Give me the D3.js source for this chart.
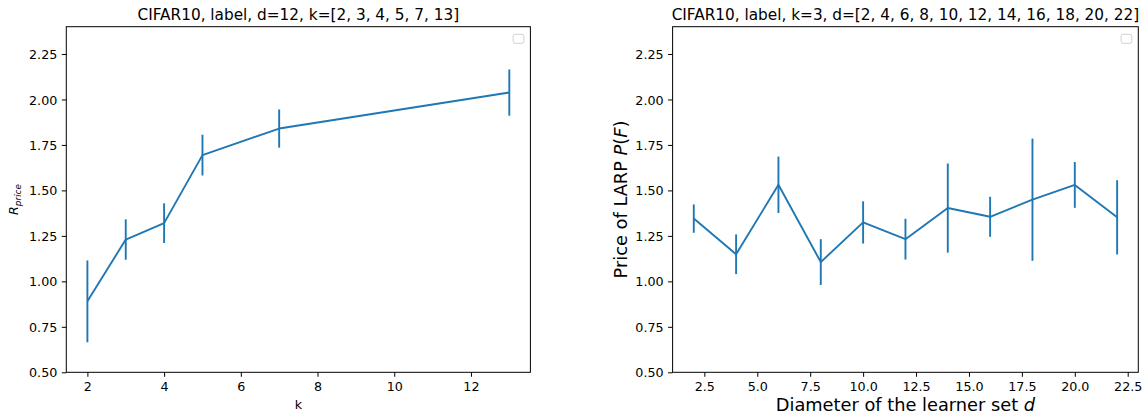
<!DOCTYPE html>
<html>
<head>
<meta charset="utf-8">
<script src="https://cdn.jsdelivr.net/npm/d3@7"></script>
<style>
  html, body { margin: 0; padding: 0; background: #fff; }
  svg { display: block; }
  text { font-family: "DejaVu Sans", sans-serif; fill: #000; }
</style>
</head>
<body>
<svg id="chart" width="1146" height="417"></svg>
<script>
// ---- data ----
const kValues = [2, 3, 4, 5, 7, 13];
const kMeans = [0.89, 1.23, 1.32, 1.694, 1.84, 2.038];
const kErrors = [0.225, 0.111, 0.109, 0.112, 0.105, 0.127];

const dValues = [2, 4, 6, 8, 10, 12, 14, 16, 18, 20, 22];
const dMeans = [1.345, 1.149, 1.531, 1.106, 1.324, 1.232, 1.403, 1.355, 1.449, 1.53, 1.352];
const dErrors = [0.078, 0.109, 0.155, 0.126, 0.116, 0.112, 0.245, 0.11, 0.336, 0.126, 0.204];

const yTicks = [0.50, 0.75, 1.00, 1.25, 1.50, 1.75, 2.00, 2.25];
const kTicks = [2, 4, 6, 8, 10, 12];
const dTicks = [2.5, 5.0, 7.5, 10.0, 12.5, 15.0, 17.5, 20.0, 22.5];

const titleLeft = "CIFAR10, label, d=12, k=[2, 3, 4, 5, 7, 13]";
const titleRight = "CIFAR10, label, k=3, d=[2, 4, 6, 8, 10, 12, 14, 16, 18, 20, 22]";

// ---- layout ----
const COLOR = "#1f77b4";
const TOP = 26.7, BOTTOM = 372.3;
const svg = d3.select("#chart");

function panel(opts) {
  const g = svg.append("g");
  const x = d3.scaleLinear().domain(opts.xDomain).range([opts.left, opts.right]);
  const y = d3.scaleLinear().domain([0.5, 2.4]).range([BOTTOM, TOP]);

  // axes
  const xAxis = d3.axisBottom(x).tickValues(opts.xTicks).tickFormat(opts.xFmt)
    .tickSize(4.5).tickPadding(4.5);
  const yAxis = d3.axisLeft(y).tickValues(yTicks).tickFormat(d3.format(".2f"))
    .tickSize(4.5).tickPadding(4.5);

  const gx = g.append("g").attr("transform", `translate(0,${BOTTOM})`).call(xAxis);
  const gy = g.append("g").attr("transform", `translate(${opts.left},0)`).call(yAxis);
  [gx, gy].forEach(a => {
    a.select(".domain").remove();
    a.selectAll(".tick line").attr("stroke", "#000").attr("stroke-width", 1);
    a.selectAll(".tick text").attr("font-size", 12.7).attr("fill", "#000")
      .attr("font-family", "DejaVu Sans, sans-serif");
  });
  gx.selectAll(".tick text").attr("dy", null).attr("y", 19);
  gy.selectAll(".tick text").attr("dy", "0.36em");

  // frame
  g.append("rect")
    .attr("x", opts.left).attr("y", TOP)
    .attr("width", opts.right - opts.left).attr("height", BOTTOM - TOP)
    .attr("fill", "none").attr("stroke", "#000").attr("stroke-width", 1);

  // error bars
  g.append("g").selectAll("line").data(opts.xs).join("line")
    .attr("x1", (d, i) => x(d)).attr("x2", (d, i) => x(d))
    .attr("y1", (d, i) => y(opts.means[i] - opts.errs[i]))
    .attr("y2", (d, i) => y(opts.means[i] + opts.errs[i]))
    .attr("stroke", COLOR).attr("stroke-width", 1.9);

  // line
  const line = d3.line().x(d => x(d[0])).y(d => y(d[1]));
  g.append("path")
    .datum(opts.xs.map((d, i) => [d, opts.means[i]]))
    .attr("d", line)
    .attr("fill", "none").attr("stroke", COLOR).attr("stroke-width", 1.9)
    .attr("stroke-linejoin", "round").attr("stroke-linecap", "butt");

  // empty legend box
  g.append("rect")
    .attr("x", opts.right - 17.2).attr("y", TOP + 7.6)
    .attr("width", 10.7).attr("height", 9).attr("rx", 2)
    .attr("fill", "#fff").attr("stroke", "#d0d0d0").attr("stroke-width", 1);

  // title
  g.append("text")
    .attr("x", (opts.left + opts.right) / 2).attr("y", 19.5)
    .attr("text-anchor", "middle").attr("font-size", 15.3)
    .text(opts.title);

  return { g, x, y };
}

const left = panel({
  left: 66.3, right: 530.4,
  xDomain: [1.45, 13.55], xTicks: kTicks, xFmt: d3.format("d"),
  xs: kValues, means: kMeans, errs: kErrors, title: titleLeft
});

const right = panel({
  left: 672.6, right: 1138.3,
  xDomain: [1, 23], xTicks: dTicks, xFmt: d3.format(".1f"),
  xs: dValues, means: dMeans, errs: dErrors, title: titleRight
});

// left labels
left.g.append("text")
  .attr("x", (66.3 + 530.4) / 2).attr("y", 409)
  .attr("text-anchor", "middle").attr("font-size", 12.7)
  .text("k");

const ylabL = left.g.append("text")
  .attr("transform", `translate(18,${(TOP + BOTTOM) / 2}) rotate(-90)`)
  .attr("text-anchor", "middle").attr("font-size", 12.7);
ylabL.append("tspan").attr("font-style", "italic").text("R");
ylabL.append("tspan").attr("font-style", "italic").attr("font-size", 8.9)
  .attr("dy", 2.6).text("price");

// right labels
const xlabR = right.g.append("text")
  .attr("x", (672.6 + 1138.3) / 2).attr("y", 411)
  .attr("text-anchor", "middle").attr("font-size", 17.8);
xlabR.append("tspan").text("Diameter of the learner set ");
xlabR.append("tspan").attr("font-style", "italic").text("d");

const ylabR = right.g.append("text")
  .attr("transform", `translate(627,${(TOP + BOTTOM) / 2}) rotate(-90)`)
  .attr("text-anchor", "middle").attr("font-size", 17.8);
ylabR.append("tspan").text("Price of LARP ");
ylabR.append("tspan").attr("font-style", "italic").text("P");
ylabR.append("tspan").text("(");
ylabR.append("tspan").attr("font-style", "italic").text("F");
ylabR.append("tspan").text(")");
</script>
</body>
</html>
